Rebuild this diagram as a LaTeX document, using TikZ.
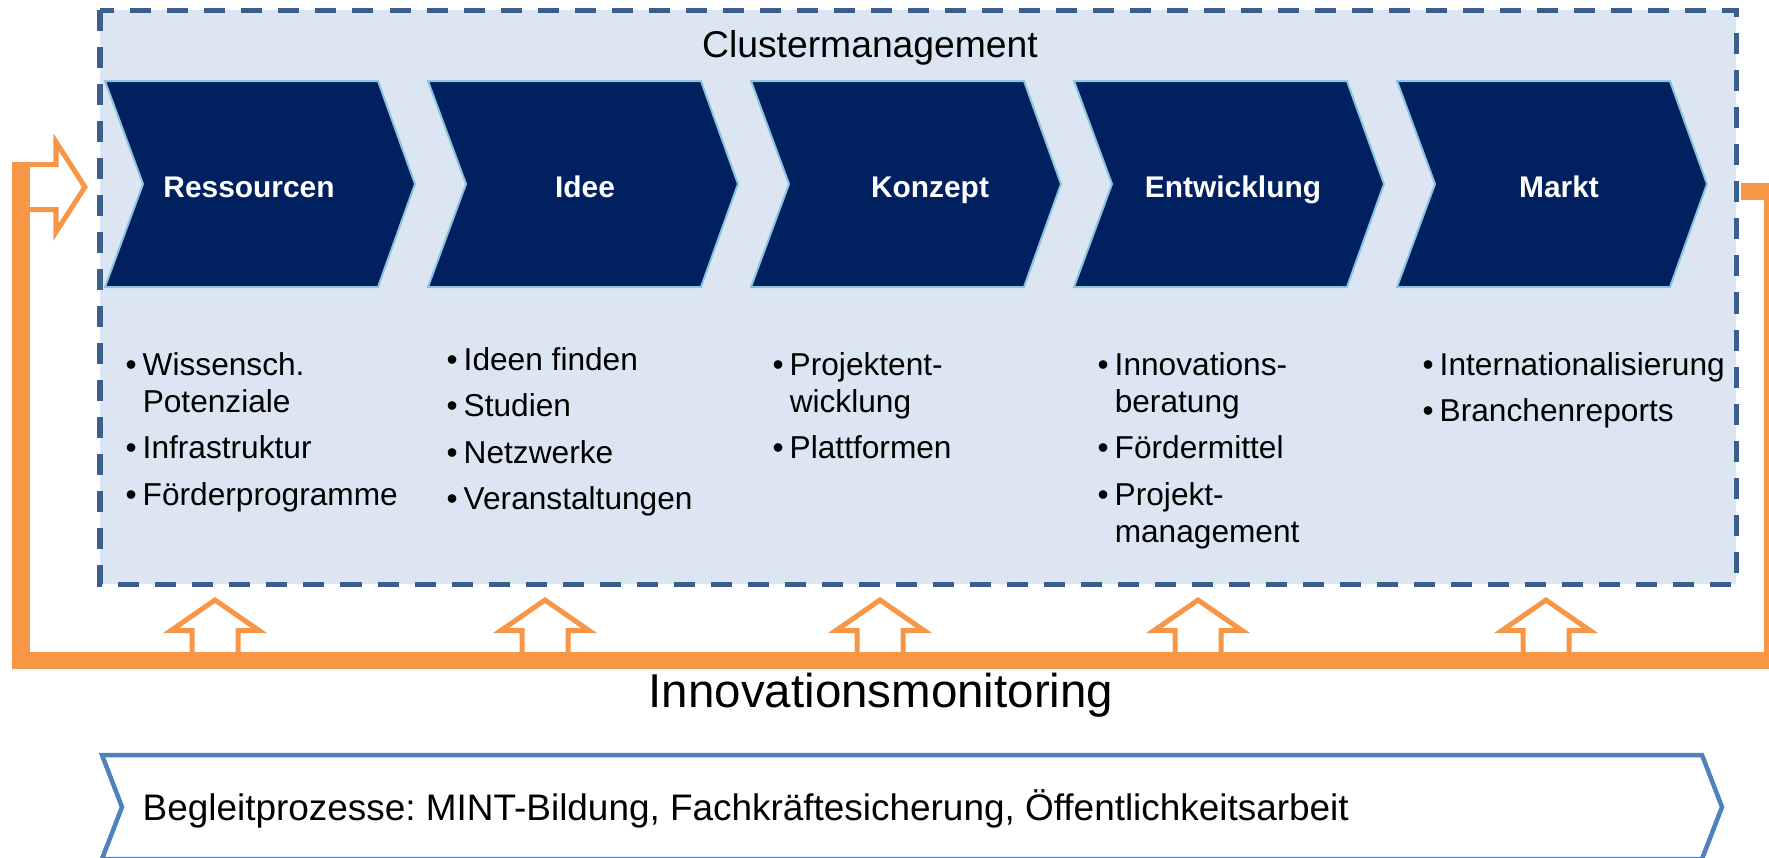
\documentclass[tikz,border=0pt]{standalone}
\usepackage{fontspec}
\setmainfont{Liberation Sans}
\usetikzlibrary{positioning}
\definecolor{navy}{HTML}{002060}
\definecolor{chevedge}{HTML}{8DC3DC}
\definecolor{panel}{HTML}{DCE6F2}
\definecolor{panedge}{HTML}{3B5E8C}
\definecolor{monit}{HTML}{F79646}
\definecolor{beglei}{HTML}{4F81BD}
\frenchspacing

\begin{document}
\begin{tikzpicture}[
  x=0.01cm, y=-0.01cm,
  phase/.style={draw=chevedge, line width=0.02cm, fill=navy},
  phaselabel/.style={anchor=base, text=white, font=\bfseries\fontsize{8.5}{10}\selectfont},
  items/.style={anchor=north west, inner sep=0pt, align=left,
                font=\fontsize{9}{10.5}\selectfont},
  hollow/.style={draw=monit, line width=0.05cm, fill=white, line join=miter},
  loopline/.style={draw=monit, line width=0.17cm, line join=miter}
]
  \useasboundingbox (0,0) rectangle (1769,857);

  % Clustermanagement panel
  \draw[panedge, line width=0.05cm, dash pattern=on 0.21cm off 0.16cm, fill=panel]
    (100,10) rectangle (1736,584);
  \node[anchor=base, font=\fontsize{10.6}{12}\selectfont] (title) at (870,57) {Clustermanagement};

  % phases
  \foreach \x in {105,428,751,1074,1397}
    \draw[phase] (\x,81) -- ++(273,0) -- ++(37,103) -- ++(-37,103) -- ++(-273,0) -- ++(38,-103) -- cycle;
  \node[phaselabel] (res) at (249,197) {Ressourcen};
  \node[phaselabel] (idee) at (585,197) {Idee};
  \node[phaselabel] (konz) at (930,197) {Konzept};
  \node[phaselabel] (entw) at (1233,197) {Entwicklung};
  \node[phaselabel] (markt) at (1559,197) {Markt};

  % tasks per phase
  \node[items] (resl) at (125,349) {\begin{tabular}{@{}l@{\hspace{1.7pt}}l@{}}
    \textbullet & Wissensch.\\ & Potenziale\\[2.7pt]
    \textbullet & Infrastruktur\\[2.7pt]
    \textbullet & Förderprogramme\end{tabular}};
  \node[items] (ideel) at (446,344) {\begin{tabular}{@{}l@{\hspace{1.7pt}}l@{}}
    \textbullet & Ideen finden\\[2.7pt]
    \textbullet & Studien\\[2.7pt]
    \textbullet & Netzwerke\\[2.7pt]
    \textbullet & Veranstaltungen\end{tabular}};
  \node[items] (konzl) at (772,349) {\begin{tabular}{@{}l@{\hspace{1.7pt}}l@{}}
    \textbullet & Projektent-\\ & wicklung\\[2.7pt]
    \textbullet & Plattformen\end{tabular}};
  \node[items] (entwl) at (1097,349) {\begin{tabular}{@{}l@{\hspace{1.7pt}}l@{}}
    \textbullet & Innovations-\\ & beratung\\[2.7pt]
    \textbullet & Fördermittel\\[2.7pt]
    \textbullet & Projekt-\\ & management\end{tabular}};
  \node[items] (marktl) at (1422,349) {\begin{tabular}{@{}l@{\hspace{1.7pt}}l@{}}
    \textbullet & Internationalisierung\\[2.7pt]
    \textbullet & Branchenreports\end{tabular}};

  % monitoring feedback
  \foreach \x in {215,545,880,1198,1546}
    \draw[hollow] (\x-23,656) -- (\x-23,630.5) -- (\x-44,630.5) -- (\x,600)
      -- (\x+44,630.5) -- (\x+23,630.5) -- (\x+23,656);
  \draw[hollow] (21,164.5) -- (56,164.5) -- (56,142) -- (85,187) -- (56,232) -- (56,209.5) -- (21,209.5);
  \coordinate (fbin) at (1741,191);
  \coordinate (fbne) at (1772,191);
  \coordinate (fbse) at (1772,660);
  \coordinate (fbsw) at (21,660);
  \coordinate (fbnw) at (21,162);
  \draw[loopline] (fbin) -- (fbne) -- (fbse) -- (fbsw) -- (fbnw);
  \node[anchor=base, font=\fontsize{13.5}{16}\selectfont] (monlabel) at (881,707) {Innovationsmonitoring};

  % accompanying processes
  \draw[beglei, line width=0.045cm, fill=white]
    (102,755) -- (1702,755) -- (1722,807) -- (1702,859) -- (102,859) -- (122,807) -- cycle;
  \node[anchor=base west, inner sep=0pt, font=\fontsize{10.5}{12}\selectfont] (begleit) at (142,820)
    {Begleitprozesse: MINT-Bildung, Fachkräftesicherung, Öffentlichkeitsarbeit};
\end{tikzpicture}
\end{document}
